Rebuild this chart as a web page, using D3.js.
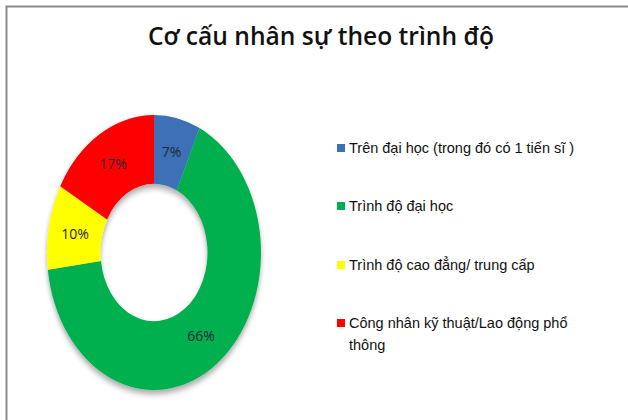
<!DOCTYPE html>
<html>
<head>
<meta charset="utf-8">
<script src="https://cdn.jsdelivr.net/npm/d3@7"></script>
<style>
  body { margin: 0; background: #fff; }
</style>
</head>
<body>
<svg width="628" height="420"></svg>
<script>
var categories = [
  "Trên đại học (trong đó có 1 tiến sĩ )",
  "Trình độ đại học",
  "Trình độ cao đẳng/ trung cấp",
  ["Công nhân kỹ thuật/Lao động phổ", "thông"]
];
var values = [7, 66, 10, 17];
var colors = ["#3c6fb6", "#00b050", "#ffff00", "#ff0000"];
var title = "Cơ cấu nhân sự theo trình độ";

var svg = d3.select("svg"),
  width = +svg.attr("width"),
  height = +svg.attr("height");

// frame (only top and left edges are visible in the crop)
svg.append("path")
  .attr("d", "M6.5,420 V6.5 H628")
  .attr("fill", "none")
  .attr("stroke", "#8a8a8a")
  .attr("stroke-width", 2);

svg.append("text")
  .attr("x", 321)
  .attr("y", 45)
  .attr("text-anchor", "middle")
  .attr("textLength", 346)
  .attr("lengthAdjust", "spacingAndGlyphs")
  .style("font-family", "'Open Sans', sans-serif")
  .style("font-weight", 600)
  .style("font-size", "25px")
  .style("fill", "#111")
  .text(title);

var defs = svg.append("defs");
var filter = defs.append("filter").attr("id", "shadow")
  .attr("x", "-20%").attr("y", "-20%").attr("width", "140%").attr("height", "140%");
filter.append("feGaussianBlur").attr("in", "SourceAlpha").attr("stdDeviation", 2.5);
filter.append("feOffset").attr("dx", 0).attr("dy", 3).attr("result", "blur");
filter.append("feComponentTransfer").append("feFuncA").attr("type", "linear").attr("slope", 0.35);
var merge = filter.append("feMerge");
merge.append("feMergeNode");
merge.append("feMergeNode").attr("in", "SourceGraphic");

var cx = 154, cy = 252.5, rOuter = 107, rInner = 53.5, sy = 1.285;

var pie = d3.pie().sort(null).value(function (d) { return d; });
var arc = d3.arc().innerRadius(rInner).outerRadius(rOuter);
var arcs = pie(values);

var donut = svg.append("g")
  .attr("transform", "translate(" + cx + "," + cy + ") scale(1," + sy + ")");

donut.append("g")
  .attr("filter", "url(#shadow)")
  .selectAll("path")
  .data(arcs)
  .enter()
  .append("path")
  .attr("d", arc)
  .attr("fill", function (d, i) { return colors[i]; });

svg.append("g")
  .selectAll("text")
  .data(arcs)
  .enter()
  .append("text")
  .attr("x", function (d) { return cx + arc.centroid(d)[0]; })
  .attr("y", function (d) { return cy + arc.centroid(d)[1] * sy; })
  .attr("text-anchor", "middle")
  .attr("dominant-baseline", "central")
  .style("font-family", "'Open Sans', sans-serif")
  .style("font-size", "14px")
  .style("fill", "#1f2a33")
  .text(function (d) { return d.data + "%"; });

// legend
var rowY = [148, 206, 265, 323];
var legend = svg.append("g")
  .selectAll("g")
  .data(categories)
  .enter()
  .append("g")
  .attr("transform", function (d, i) { return "translate(337," + rowY[i] + ")"; });

legend.append("rect")
  .attr("x", 0)
  .attr("y", -4)
  .attr("width", 8)
  .attr("height", 8)
  .attr("fill", function (d, i) { return colors[i]; });

legend.append("text")
  .attr("x", 12)
  .attr("y", 5)
  .style("font-family", "'Liberation Sans', Arial, sans-serif")
  .style("font-size", "14.5px")
  .style("fill", "#111")
  .each(function (d) {
    var lines = Array.isArray(d) ? d : [d];
    var t = d3.select(this);
    lines.forEach(function (l, j) {
      t.append("tspan")
        .attr("x", 12)
        .attr("dy", j === 0 ? 0 : 22)
        .text(l);
    });
  });
</script>
</body>
</html>
